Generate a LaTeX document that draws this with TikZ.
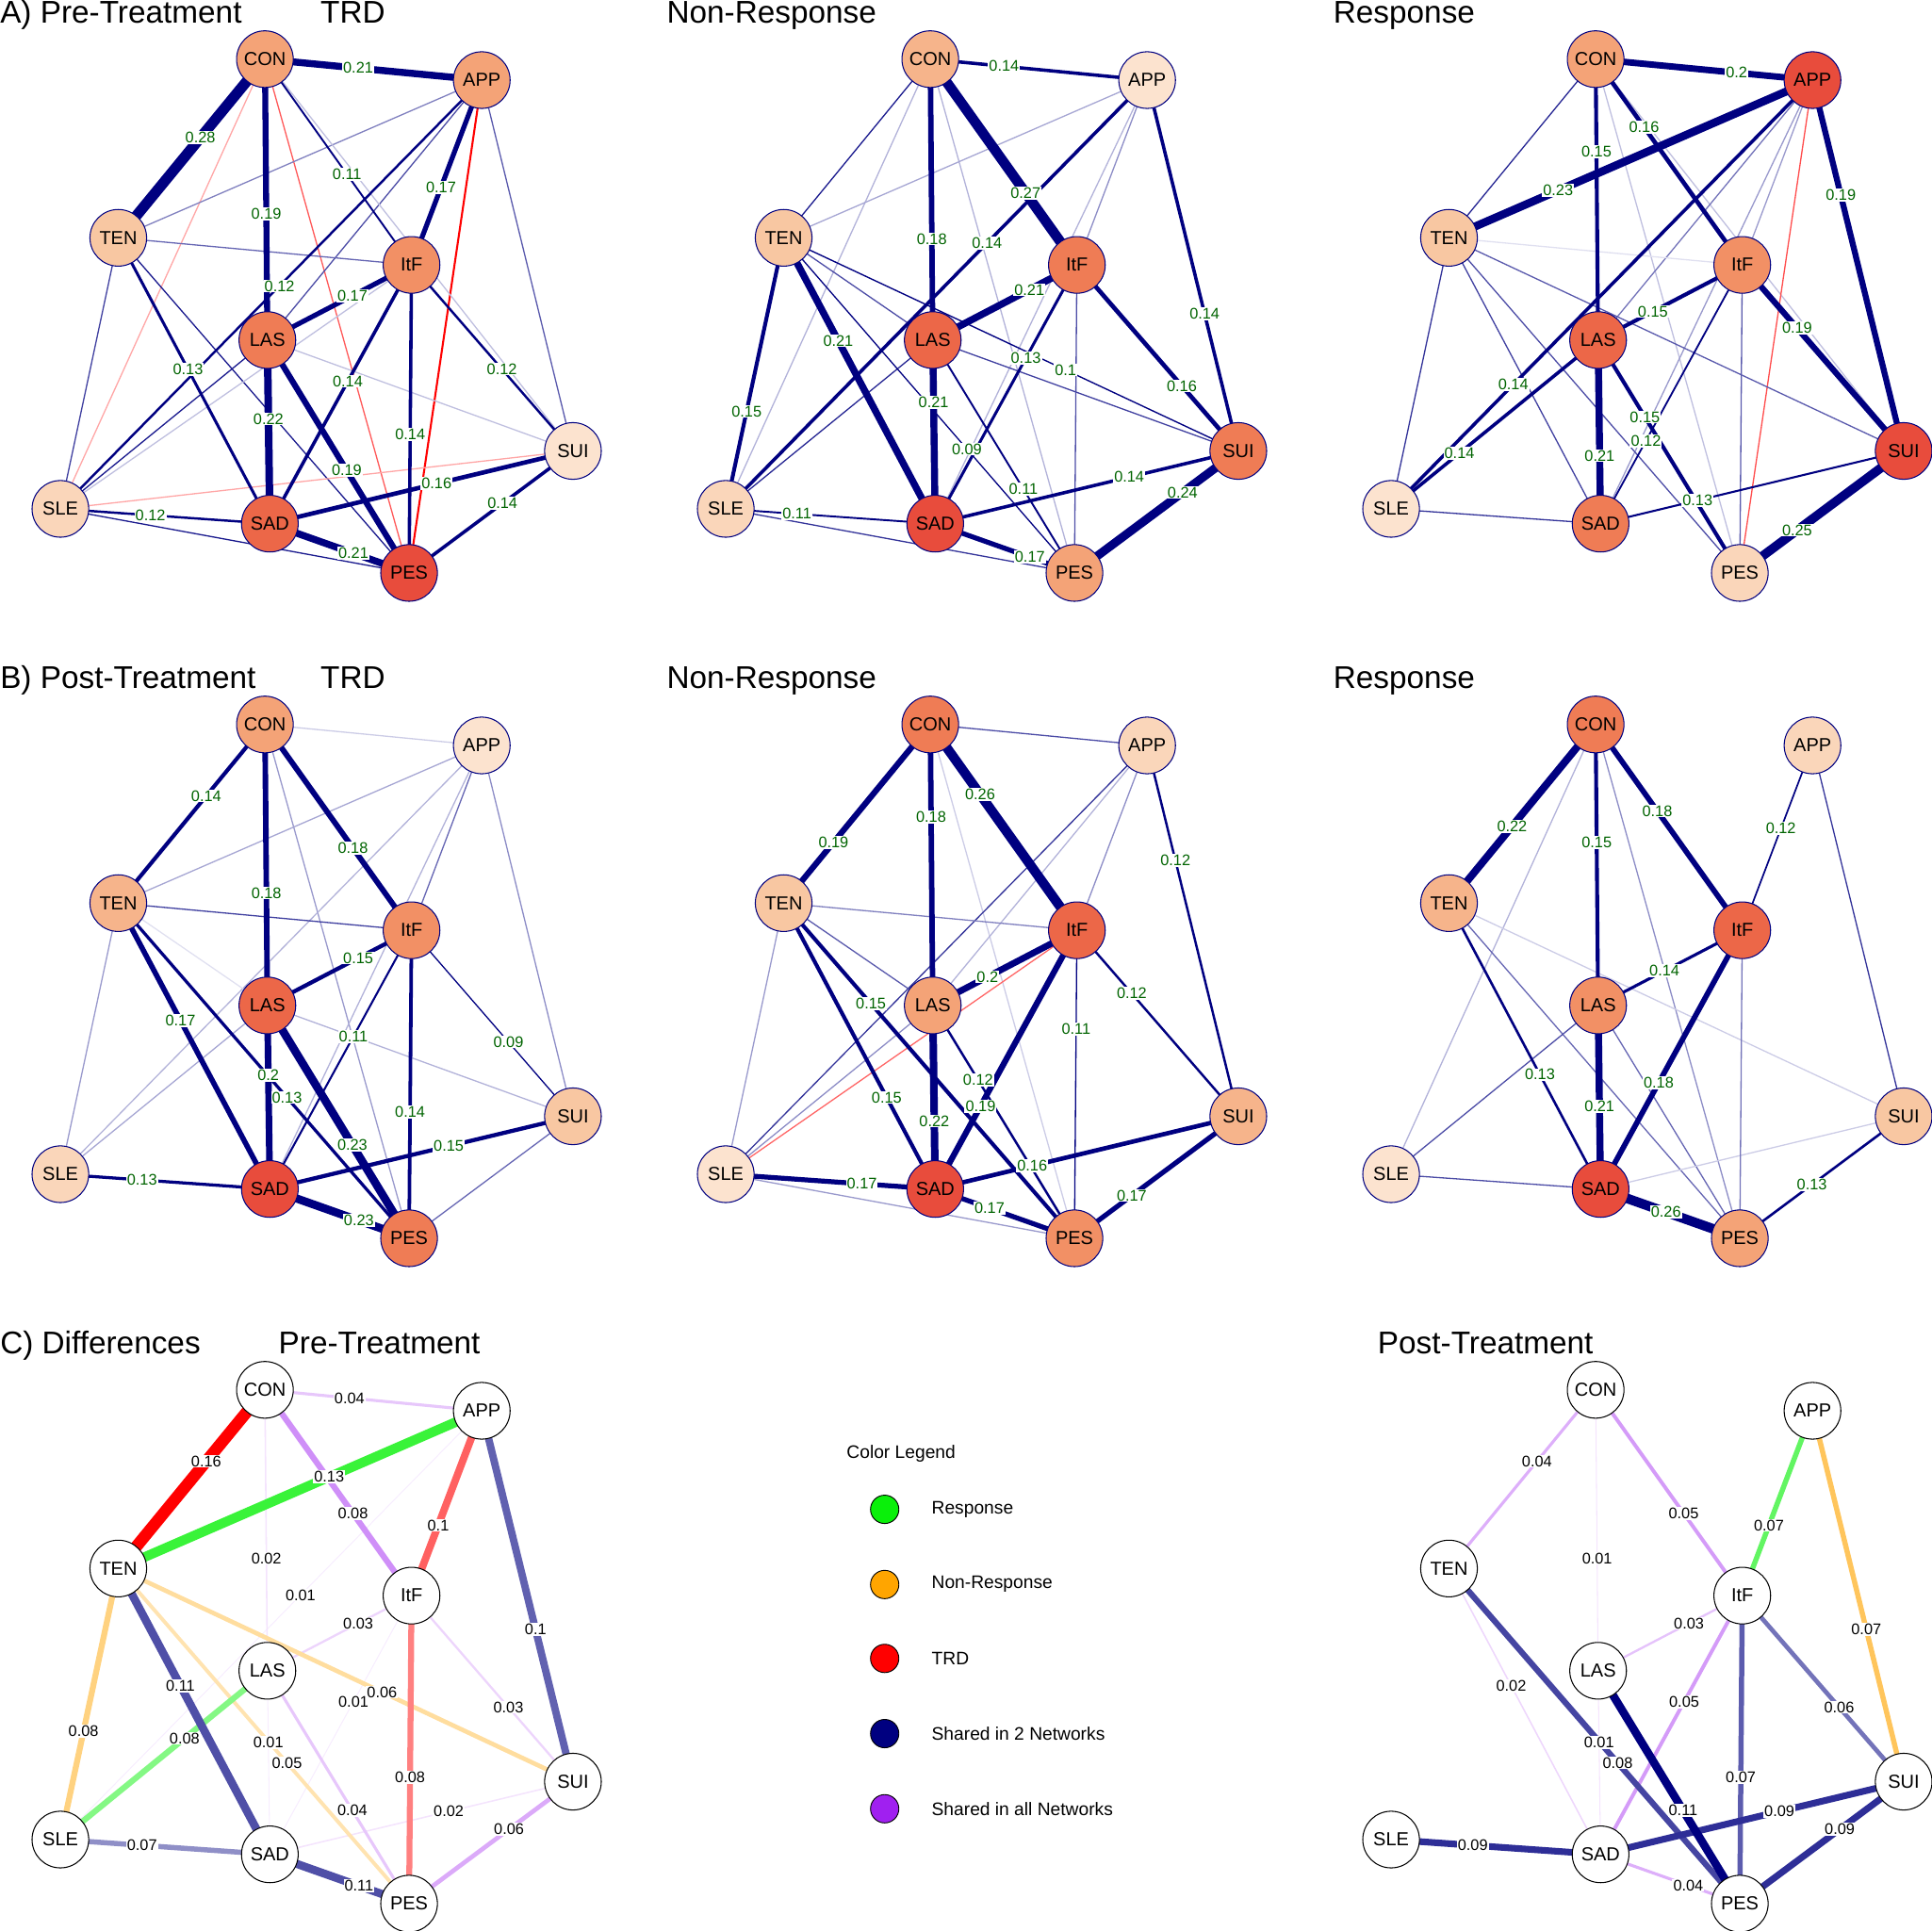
\documentclass[tikz,border=0pt]{standalone}
\usepackage{fontspec}
\setmainfont{Liberation Sans}
\definecolor{navy}{RGB}{0,0,128}
\definecolor{labgreen}{RGB}{0,100,0}
\definecolor{resp}{RGB}{10,240,10}
\definecolor{nonr}{RGB}{255,165,0}
\definecolor{trd}{RGB}{255,0,0}
\definecolor{shr}{RGB}{0,0,128}
\definecolor{alln}{RGB}{160,32,240}
\definecolor{p1}{RGB}{252,227,207}
\definecolor{p2}{RGB}{250,214,186}
\definecolor{p3}{RGB}{248,199,162}
\definecolor{p4}{RGB}{246,180,139}
\definecolor{p5}{RGB}{244,163,119}
\definecolor{p6}{RGB}{242,144,101}
\definecolor{p7}{RGB}{239,124,85}
\definecolor{p8}{RGB}{236,103,72}
\definecolor{p9}{RGB}{232,76,60}
\pgfdeclarelayer{edges}
\pgfsetlayers{edges,main}
\newcommand{\symnodes}[9]{%
  \node[nd=#1] (CON) at (215,48) {CON};
  \node[nd=#2] (APP) at (391,65) {APP};
  \node[nd=#3] (TEN) at (96,193) {TEN};
  \node[nd=#4] (ItF) at (334,215) {ItF};
  \node[nd=#5] (LAS) at (217,276) {LAS};
  \node[nd=#6] (SUI) at (465,366) {SUI};
  \node[nd=#7] (SLE) at (49,413) {SLE};
  \node[nd=#8] (SAD) at (219,425) {SAD};
  \node[nd=#9] (PES) at (332,465) {PES};}
\newcommand{\lbledge}[5]{%
  \begin{pgfonlayer}{edges}\draw[#1] (#2.center) -- (#3.center);\end{pgfonlayer}
  \path (#2.center) -- node[lab,pos=#4] {#5} (#3.center);}
\begin{document}
\begin{tikzpicture}[x=1pt, y=-1pt,
    nd/.style={circle, draw=navy, line width=0.8pt, fill=#1, minimum size=46pt, inner sep=0pt, font=\fontsize{15.3}{18}\selectfont},
    lab/.style={fill=white, inner sep=0.8pt, text=labgreen, font=\fontsize{12.5}{14}\selectfont},
    ed/.style={draw=navy, line width=#1pt},
    fe/.style={draw=navy!#1, line width=1pt},
    fn/.style={draw=red!#1, line width=1pt},
    dw/.style={line width=#1pt},
    ttl/.style={anchor=base west, inner sep=0pt, font=\fontsize{25.5}{30}\selectfont},
    legdot/.style={circle, draw=black, line width=0.7pt, minimum size=23pt, inner sep=0pt},
    legtxt/.style={anchor=west, inner sep=0pt, font=\fontsize{14.7}{17}\selectfont}]
    \useasboundingbox (0,0) rectangle (1568,1567);

    \node[ttl] (tA) at (0,19) {A) Pre-Treatment};
    \node[ttl] (tAt) at (260,19) {TRD};
    \node[ttl] (tAn) at (541,19) {Non-Response};
    \node[ttl] (tAr) at (1082,19) {Response};
    \node[ttl] (tB) at (0,559) {B) Post-Treatment};
    \node[ttl] (tBt) at (260,559) {TRD};
    \node[ttl] (tBn) at (541,559) {Non-Response};
    \node[ttl] (tBr) at (1082,559) {Response};
    \node[ttl] (tC) at (0,1099) {C) Differences};
    \node[ttl] (tCpre) at (226,1099) {Pre-Treatment};
    \node[ttl] (tCpost) at (1118,1099) {Post-Treatment};

    \begin{scope}[name prefix=a1-]
    \symnodes{p5}{p5}{p3}{p6}{p7}{p1}{p2}{p8}{p9}
    \begin{pgfonlayer}{edges}
    \draw[fn=35] (CON.center) -- (SLE.center);
    \draw[fn=65] (CON.center) -- (PES.center);
    \draw[fn=100, line width=1.6pt] (APP.center) -- (PES.center);
    \draw[fe=50] (APP.center) -- (TEN.center);
    \draw[fe=70] (APP.center) -- (LAS.center);
    \draw[fe=65] (APP.center) -- (SUI.center);
    \draw[fe=25] (CON.center) -- (SUI.center);
    \draw[fe=60] (TEN.center) -- (ItF.center);
    \draw[fe=75] (TEN.center) -- (SLE.center);
    \draw[fe=90] (TEN.center) -- (PES.center);
    \draw[fe=90] (LAS.center) -- (SLE.center);
    \draw[fe=25] (ItF.center) -- (SLE.center);
    \draw[fe=25] (LAS.center) -- (SUI.center);
    \draw[fn=35] (SLE.center) -- (SUI.center);
    \draw[fe=90] (SLE.center) -- (PES.center);
    \end{pgfonlayer}
    \lbledge{ed=1.47}{CON}{ItF}{.56}{0.11}
    \lbledge{ed=1.89}{APP}{SLE}{.48}{0.12}
    \lbledge{ed=1.89}{ItF}{SUI}{.56}{0.12}
    \lbledge{ed=1.89}{SLE}{SAD}{.43}{0.12}
    \lbledge{ed=2.31}{TEN}{SAD}{.46}{0.13}
    \lbledge{ed=2.73}{ItF}{SAD}{.45}{0.14}
    \lbledge{ed=2.73}{ItF}{PES}{.55}{0.14}
    \lbledge{ed=2.73}{SUI}{PES}{.43}{0.14}
    \lbledge{ed=3.57}{SAD}{SUI}{.55}{0.16}
    \lbledge{ed=3.99}{APP}{ItF}{.58}{0.17}
    \lbledge{ed=3.99}{LAS}{ItF}{.59}{0.17}
    \lbledge{ed=4.83}{CON}{LAS}{.55}{0.19}
    \lbledge{ed=4.83}{LAS}{PES}{.56}{0.19}
    \lbledge{ed=5.67}{CON}{APP}{.43}{0.21}
    \lbledge{ed=5.67}{SAD}{PES}{.60}{0.21}
    \lbledge{ed=6.09}{LAS}{SAD}{.43}{0.22}
    \lbledge{ed=8.61}{CON}{TEN}{.44}{0.28}
    \end{scope}

    \begin{scope}[shift={(540,0)}, name prefix=a2-]
    \symnodes{p4}{p1}{p3}{p7}{p8}{p7}{p2}{p9}{p5}
    \begin{pgfonlayer}{edges}
    \draw[fe=90] (CON.center) -- (TEN.center);
    \draw[fe=30] (CON.center) -- (SLE.center);
    \draw[fe=30] (CON.center) -- (PES.center);
    \draw[fe=35] (APP.center) -- (TEN.center);
    \draw[fe=45] (APP.center) -- (ItF.center);
    \draw[fe=30] (APP.center) -- (SAD.center);
    \draw[fe=70] (TEN.center) -- (LAS.center);
    \draw[fe=75] (LAS.center) -- (SUI.center);
    \draw[fe=85] (LAS.center) -- (SLE.center);
    \draw[fe=70] (ItF.center) -- (PES.center);
    \draw[fe=80] (SLE.center) -- (PES.center);
    \end{pgfonlayer}
    \lbledge{ed=1}{TEN}{PES}{.63}{0.09}
    \lbledge{ed=1.05}{TEN}{SUI}{.62}{0.1}
    \lbledge{ed=1.47}{LAS}{PES}{.64}{0.11}
    \lbledge{ed=1.47}{SLE}{SAD}{.34}{0.11}
    \lbledge{ed=2.31}{ItF}{SAD}{.36}{0.13}
    \lbledge{ed=2.73}{CON}{APP}{.34}{0.14}
    \lbledge{ed=2.73}{APP}{SLE}{.38}{0.14}
    \lbledge{ed=2.73}{APP}{SUI}{.63}{0.14}
    \lbledge{ed=2.73}{SAD}{SUI}{.64}{0.14}
    \lbledge{ed=3.15}{TEN}{SLE}{.64}{0.15}
    \lbledge{ed=3.57}{ItF}{SUI}{.65}{0.16}
    \lbledge{ed=3.99}{SAD}{PES}{.68}{0.17}
    \lbledge{ed=4.41}{CON}{LAS}{.64}{0.18}
    \lbledge{ed=5.67}{LAS}{ItF}{.67}{0.21}
    \lbledge{ed=5.67}{TEN}{SAD}{.36}{0.21}
    \lbledge{ed=5.67}{LAS}{SAD}{.34}{0.21}
    \lbledge{ed=6.93}{PES}{SUI}{.66}{0.24}
    \lbledge{ed=8.19}{CON}{ItF}{.65}{0.27}
    \end{scope}

    \begin{scope}[shift={(1080,0)}, name prefix=a3-]
    \symnodes{p5}{p9}{p3}{p6}{p8}{p9}{p1}{p7}{p2}
    \begin{pgfonlayer}{edges}
    \draw[fe=85] (CON.center) -- (TEN.center);
    \draw[fe=25] (CON.center) -- (PES.center);
    \draw[fe=25] (CON.center) -- (SUI.center);
    \draw[fe=55] (APP.center) -- (LAS.center);
    \draw[fe=40] (APP.center) -- (ItF.center);
    \draw[fe=40] (APP.center) -- (SAD.center);
    \draw[fn=70] (APP.center) -- (PES.center);
    \draw[fe=12] (TEN.center) -- (ItF.center);
    \draw[fe=65] (TEN.center) -- (SUI.center);
    \draw[fe=80] (TEN.center) -- (SLE.center);
    \draw[fe=75] (TEN.center) -- (SAD.center);
    \draw[fe=70] (TEN.center) -- (PES.center);
    \draw[fe=80] (SLE.center) -- (SAD.center);
    \draw[fe=65] (ItF.center) -- (PES.center);
    \end{pgfonlayer}
    \lbledge{ed=1.4}{ItF}{SAD}{.68}{0.12}
    \lbledge{ed=1.6}{SAD}{SUI}{.32}{0.13}
    \lbledge{ed=2.73}{APP}{SLE}{.71}{0.14}
    \lbledge{ed=2.73}{LAS}{SLE}{.67}{0.14}
    \lbledge{ed=3.15}{CON}{LAS}{.33}{0.15}
    \lbledge{ed=3.15}{LAS}{ItF}{.38}{0.15}
    \lbledge{ed=3.15}{LAS}{PES}{.33}{0.15}
    \lbledge{ed=3.57}{CON}{ItF}{.33}{0.16}
    \lbledge{ed=4.83}{APP}{SUI}{.31}{0.19}
    \lbledge{ed=4.83}{ItF}{SUI}{.34}{0.19}
    \lbledge{ed=5.25}{CON}{APP}{.65}{0.2}
    \lbledge{ed=5.67}{LAS}{SAD}{.63}{0.21}
    \lbledge{ed=6.51}{APP}{TEN}{.70}{0.23}
    \lbledge{ed=7.35}{PES}{SUI}{.35}{0.25}
    \end{scope}

    \begin{scope}[shift={(0,540)}, name prefix=b1-]
    \symnodes{p5}{p1}{p4}{p6}{p8}{p3}{p2}{p9}{p7}
    \begin{pgfonlayer}{edges}
    \draw[fe=20] (CON.center) -- (APP.center);
    \draw[fe=40] (CON.center) -- (PES.center);
    \draw[fe=35] (APP.center) -- (TEN.center);
    \draw[fe=60] (APP.center) -- (ItF.center);
    \draw[fe=30] (APP.center) -- (SAD.center);
    \draw[fe=30] (APP.center) -- (SLE.center);
    \draw[fe=45] (APP.center) -- (SUI.center);
    \draw[fe=75] (TEN.center) -- (ItF.center);
    \draw[fe=40] (TEN.center) -- (SLE.center);
    \draw[fe=12] (TEN.center) -- (LAS.center);
    \draw[fe=35] (LAS.center) -- (SLE.center);
    \draw[fe=30] (LAS.center) -- (SUI.center);
    \draw[fe=60] (SUI.center) -- (PES.center);
    \end{pgfonlayer}
    \lbledge{ed=1}{ItF}{SUI}{.60}{0.09}
    \lbledge{ed=1.6}{ItF}{SAD}{.41}{0.11}
    \lbledge{ed=2.5}{TEN}{PES}{.58}{0.13}
    \lbledge{ed=2.5}{SLE}{SAD}{.39}{0.13}
    \lbledge{ed=3.2}{CON}{TEN}{.40}{0.14}
    \lbledge{ed=2.9}{ItF}{PES}{.59}{0.14}
    \lbledge{ed=3.3}{LAS}{ItF}{.63}{0.15}
    \lbledge{ed=3.3}{SAD}{SUI}{.59}{0.15}
    \lbledge{ed=4.3}{TEN}{SAD}{.41}{0.17}
    \lbledge{ed=4.5}{CON}{LAS}{.60}{0.18}
    \lbledge{ed=4.5}{CON}{ItF}{.60}{0.18}
    \lbledge{ed=5.3}{LAS}{SAD}{.38}{0.2}
    \lbledge{ed=6.6}{LAS}{PES}{.60}{0.23}
    \lbledge{ed=6.6}{SAD}{PES}{.64}{0.23}
    \end{scope}

    \begin{scope}[shift={(540,540)}, name prefix=b2-]
    \symnodes{p7}{p2}{p3}{p8}{p5}{p4}{p1}{p9}{p6}
    \begin{pgfonlayer}{edges}
    \draw[fe=70] (CON.center) -- (APP.center);
    \draw[fe=20] (CON.center) -- (PES.center);
    \draw[fe=80] (APP.center) -- (SLE.center);
    \draw[fe=30] (APP.center) -- (LAS.center);
    \draw[fe=45] (APP.center) -- (ItF.center);
    \draw[fe=50] (TEN.center) -- (ItF.center);
    \draw[fe=65] (TEN.center) -- (LAS.center);
    \draw[fe=40] (TEN.center) -- (SLE.center);
    \draw[fe=45] (LAS.center) -- (SLE.center);
    \draw[fn=60] (ItF.center) -- (SLE.center);
    \draw[fe=40] (SLE.center) -- (PES.center);
    \end{pgfonlayer}
    \lbledge{ed=1}{ItF}{PES}{.32}{0.11}
    \lbledge{ed=1.89}{APP}{SUI}{.31}{0.12}
    \lbledge{ed=1.89}{ItF}{SUI}{.34}{0.12}
    \lbledge{ed=1.89}{LAS}{PES}{.32}{0.12}
    \lbledge{ed=3.15}{TEN}{PES}{.30}{0.15}
    \lbledge{ed=3.15}{TEN}{SAD}{.68}{0.15}
    \lbledge{ed=3.57}{SAD}{SUI}{.32}{0.16}
    \lbledge{ed=3.99}{SLE}{SAD}{.65}{0.17}
    \lbledge{ed=3.99}{SAD}{PES}{.39}{0.17}
    \lbledge{ed=3.99}{PES}{SUI}{.35}{0.17}
    \lbledge{ed=4.41}{CON}{LAS}{.33}{0.18}
    \lbledge{ed=4.83}{CON}{TEN}{.66}{0.19}
    \lbledge{ed=4.83}{ItF}{SAD}{.68}{0.19}
    \lbledge{ed=5.25}{LAS}{ItF}{.38}{0.2}
    \lbledge{ed=6.09}{LAS}{SAD}{.63}{0.22}
    \lbledge{ed=7.77}{CON}{ItF}{.34}{0.26}
    \end{scope}

    \begin{scope}[shift={(1080,540)}, name prefix=b3-]
    \symnodes{p7}{p2}{p4}{p8}{p6}{p3}{p1}{p9}{p5}
    \begin{pgfonlayer}{edges}
    \draw[fe=30] (CON.center) -- (SLE.center);
    \draw[fe=45] (CON.center) -- (PES.center);
    \draw[fe=80] (APP.center) -- (SUI.center);
    \draw[fe=20] (TEN.center) -- (SUI.center);
    \draw[fe=60] (TEN.center) -- (PES.center);
    \draw[fe=70] (LAS.center) -- (SLE.center);
    \draw[fe=60] (LAS.center) -- (PES.center);
    \draw[fe=70] (SLE.center) -- (SAD.center);
    \draw[fe=20] (SAD.center) -- (SUI.center);
    \draw[fe=55] (ItF.center) -- (PES.center);
    \end{pgfonlayer}
    \lbledge{ed=1.3}{APP}{ItF}{.45}{0.12}
    \lbledge{ed=2}{TEN}{SAD}{.60}{0.13}
    \lbledge{ed=2}{SUI}{PES}{.56}{0.13}
    \lbledge{ed=2.4}{LAS}{ItF}{.46}{0.14}
    \lbledge{ed=3.15}{CON}{LAS}{.42}{0.15}
    \lbledge{ed=4.41}{CON}{ItF}{.42}{0.18}
    \lbledge{ed=4.41}{ItF}{SAD}{.59}{0.18}
    \lbledge{ed=5.67}{LAS}{SAD}{.55}{0.21}
    \lbledge{ed=6.09}{CON}{TEN}{.57}{0.22}
    \lbledge{ed=7.77}{SAD}{PES}{.47}{0.26}
    \end{scope}

    \begin{scope}[shift={(0,1080)}, name prefix=c1-, nd/.append style={draw=black}, lab/.append style={text=black}]
    \symnodes{white}{white}{white}{white}{white}{white}{white}{white}{white}
    \lbledge{dw=0.8, draw=alln!8}{APP}{SLE}{.43}{0.01}
    \lbledge{dw=0.8, draw=alln!8}{ItF}{SAD}{.41}{0.01}
    \lbledge{dw=0.8, draw=alln!8}{LAS}{SAD}{.39}{0.01}
    \lbledge{dw=1.2, draw=alln!12}{CON}{LAS}{.60}{0.02}
    \lbledge{dw=1.2, draw=alln!12}{SAD}{SUI}{.59}{0.02}
    \lbledge{dw=1.8, draw=alln!19}{LAS}{ItF}{.63}{0.03}
    \lbledge{dw=1.8, draw=alln!19}{ItF}{SUI}{.60}{0.03}
    \lbledge{dw=2.4, draw=alln!25}{CON}{APP}{.39}{0.04}
    \lbledge{dw=2.4, draw=alln!25}{LAS}{PES}{.60}{0.04}
    \lbledge{dw=3, draw=nonr!31}{TEN}{PES}{.58}{0.05}
    \lbledge{dw=3.6, draw=nonr!38}{TEN}{SUI}{.58}{0.06}
    \lbledge{dw=3.6, draw=alln!38}{SUI}{PES}{.39}{0.06}
    \lbledge{dw=4.2, draw=shr!44}{SLE}{SAD}{.39}{0.07}
    \lbledge{dw=4.8, draw=alln!50}{CON}{ItF}{.60}{0.08}
    \lbledge{dw=4.8, draw=nonr!50}{TEN}{SLE}{.60}{0.08}
    \lbledge{dw=4.8, draw=resp!50}{LAS}{SLE}{.40}{0.08}
    \lbledge{dw=4.8, draw=trd!50}{ItF}{PES}{.59}{0.08}
    \lbledge{dw=6, draw=trd!62}{APP}{ItF}{.62}{0.1}
    \lbledge{dw=6, draw=shr!62}{APP}{SUI}{.59}{0.1}
    \lbledge{dw=6.6, draw=shr!69}{TEN}{SAD}{.41}{0.11}
    \lbledge{dw=6.6, draw=shr!69}{SAD}{PES}{.64}{0.11}
    \lbledge{dw=7.8, draw=resp!81}{TEN}{APP}{.58}{0.13}
    \lbledge{dw=9.6, draw=trd}{CON}{TEN}{.40}{0.16}
    \end{scope}

    \node[legtxt] (lgtitle) at (687,1180) {Color Legend};
    \node[legdot, fill=resp] (lgresp) at (718,1225) {};
    \node[legtxt] (lgrespt) at (756,1225) {Response};
    \node[legdot, fill=nonr] (lgnonr) at (718,1286) {};
    \node[legtxt] (lgnonrt) at (756,1286) {Non-Response};
    \node[legdot, fill=trd] (lgtrd) at (718,1346) {};
    \node[legtxt] (lgtrdt) at (756,1346) {TRD};
    \node[legdot, fill=shr] (lgshr) at (718,1407) {};
    \node[legtxt] (lgshrt) at (756,1407) {Shared in 2 Networks};
    \node[legdot, fill=alln] (lgall) at (718,1468) {};
    \node[legtxt] (lgallt) at (756,1468) {Shared in all Networks};

    \begin{scope}[shift={(1080,1080)}, name prefix=c3-, nd/.append style={draw=black}, lab/.append style={text=black}]
    \symnodes{white}{white}{white}{white}{white}{white}{white}{white}{white}
    \lbledge{dw=0.8, draw=alln!12}{CON}{LAS}{.60}{0.01}
    \lbledge{dw=0.8, draw=alln!12}{LAS}{SAD}{.39}{0.01}
    \lbledge{dw=1.2, draw=alln!18}{TEN}{SAD}{.41}{0.02}
    \lbledge{dw=1.8, draw=alln!27}{LAS}{ItF}{.63}{0.03}
    \lbledge{dw=2.4, draw=alln!36}{CON}{TEN}{.40}{0.04}
    \lbledge{dw=2.4, draw=alln!36}{SAD}{PES}{.63}{0.04}
    \lbledge{dw=3, draw=alln!45}{CON}{ItF}{.60}{0.05}
    \lbledge{dw=3, draw=alln!45}{ItF}{SAD}{.41}{0.05}
    \lbledge{dw=3.6, draw=shr!55}{ItF}{SUI}{.60}{0.06}
    \lbledge{dw=4.2, draw=resp!64}{APP}{ItF}{.62}{0.07}
    \lbledge{dw=4.2, draw=nonr!64}{APP}{SUI}{.59}{0.07}
    \lbledge{dw=4.2, draw=shr!64}{ItF}{PES}{.59}{0.07}
    \lbledge{dw=4.8, draw=shr!73}{TEN}{PES}{.58}{0.08}
    \lbledge{dw=5.4, draw=shr!82}{SAD}{SUI}{.59}{0.09}
    \lbledge{dw=5.4, draw=shr!82}{SUI}{PES}{.39}{0.09}
    \lbledge{dw=5.4, draw=shr!82}{SLE}{SAD}{.39}{0.09}
    \lbledge{dw=6.6, draw=shr}{LAS}{PES}{.60}{0.11}
    \end{scope}
\end{tikzpicture}
\end{document}
